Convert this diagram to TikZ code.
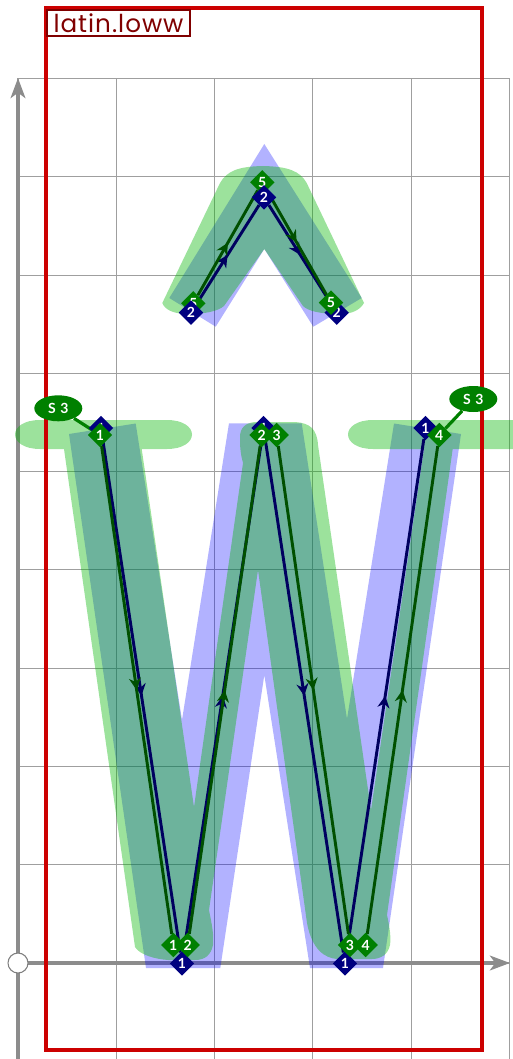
\documentclass[tikz,border=0pt]{standalone}
\usepackage{fontspec}
\setmainfont{Lato}
\newfontfamily\namefont[LetterSpace=4]{Poppins}
\usetikzlibrary{shapes.geometric,arrows.meta,backgrounds,decorations.markings}
\definecolor{navydot}{HTML}{000080}
\definecolor{navyline}{HTML}{000060}
\definecolor{greendot}{HTML}{008000}
\definecolor{greenline}{HTML}{005000}
\definecolor{boxred}{HTML}{CC0000}
\definecolor{labelred}{HTML}{800000}
\tikzset{
	navynode/.style = {
		diamond,
		fill=navydot,
		text=white,
		minimum size=18.5pt,
		aspect=1,
		inner sep=0pt,
		font=\bfseries\fontsize{10.5}{10.5}\selectfont
	},
	greennode/.style = {
		navynode,
		fill=greendot
	},
	bubble/.style = {
		ellipse,
		fill=greendot,
		text=white,
		minimum width=36pt,
		minimum height=19.5pt,
		inner sep=0pt,
		font=\bfseries\fontsize{10.5}{10.5}\selectfont
	},
	tail/.style = {
		greendot,
		line width=2.4pt
	},
	stroke/.style = {
		line width=2.2pt,
		postaction={decorate},
		decoration={markings,
			mark=at position 0.5 with {\arrow{Stealth[length=9pt,width=9pt,inset=3pt]}}}
	},
	navystroke/.style = {stroke, navyline},
	greenstroke/.style = {stroke, greenline},
	axis/.style = {
		draw=gray!90,
		line width=3.4pt,
		-{Stealth[length=15pt,width=11pt,inset=4pt]}
	},
	gridline/.style = {
		gray!75,
		line width=0.9pt
	},
	bluefill/.style = {fill={rgb,255:red,0;green,0;blue,255}, fill opacity=0.3},
	greenfill/.style = {fill={rgb,255:red,0;green,180;blue,0}, fill opacity=0.39}
}
\begin{document}
\begin{tikzpicture}[x=0.75pt,y=-0.75pt]
	\useasboundingbox (0,0) rectangle (512,1059);

	% upper mark, points 2 and 5
	\node [greennode] (c1) at (193.3,303.3) {5};
	\node [greennode] (c2) at (262.3,182.3) {5};
	\node [navynode] (a3) at (336.7,312.7) {2};
	\node [navynode] (a1) at (191,312.7) {2};
	\node [navynode] (a2) at (264,197.3) {2};
	\node [greennode] (c3) at (331,302.7) {5};

	% letter, first outline
	\node [navynode] (b1) at (101,428) {1};
	\node [navynode] (b2) at (182,963.5) {1};
	\node [navynode] (b3) at (263.5,428) {1};
	\node [navynode] (b4) at (345,963.5) {1};
	\node [navynode] (b5) at (425.5,428) {1};

	% letter, second outline
	\node [greennode] (d1) at (100,435) {1};
	\node [greennode] (d2) at (173.3,945) {1};
	\node [greennode] (d3) at (187.7,945) {2};
	\node [greennode] (d4) at (261.7,435) {2};
	\node [greennode] (d5) at (276.7,435) {3};
	\node [greennode] (d6) at (350,945) {3};
	\node [greennode] (d7) at (365.7,945) {4};
	\node [greennode] (d8) at (439.3,435) {4};

	% bubbles
	\node [bubble] (s1) at (58.3,408.3) {S\hspace{1pt} 3};
	\node [bubble] (s2) at (473.3,399) {S\hspace{1pt} 3};

	% name of the glyph
	\node [draw=labelred, line width=1.5pt, fill=white, text=labelred, minimum width=107pt, minimum height=20pt, inner sep=0pt, font=\namefont\fontsize{18.5}{18.5}\selectfont] (name) at (118.5,23) {latin.loww};

	\begin{scope}[on background layer]
		% grid
		\foreach \x in {18,116.3,214.6,312.6,411.2,509.5}
			\draw [gridline] (\x,78.5) -- (\x,1059);
		\foreach \y in {78.5,176.8,275.4,373.2,471.6,569.8,668.4,766.3,864.6,963}
			\draw [gridline] (18,\y) -- (509.5,\y);

		% axes
		\coordinate (origin) at (18,963);
		\coordinate (ytop) at (18,78);
		\coordinate (ybottom) at (18,1059);
		\coordinate (xend) at (510,963);
		\draw [axis] (ybottom) -- (ytop);
		\draw [axis] (origin) -- (xend);

		% first outline fill
		\path [bluefill] (69,434) -- (135.7,423.5) -- (182,720) -- (229,423.3) -- (301.7,423.3)
			-- (347,719) -- (394,423.5) -- (461,434) -- (383,968) -- (310,968)
			-- (264.3,675) -- (220.3,968) -- (146,968) -- cycle;
		\path [bluefill] (264.3,144) -- (361.7,298) -- (313.3,326.7) -- (264.3,249)
			-- (215.7,326.7) -- (169.3,298) -- cycle;

		% second outline fill
		\path [greenfill] (40,420) -- (167,420) .. controls (183,420) and (192,427) .. (192,434.5)
			.. controls (192,442) and (183,449) .. (167,449) -- (141.7,449) -- (194,807)
			-- (243,463) .. controls (240,452) and (240,445) .. (240,437)
			.. controls (240,428) and (245,423) .. (255,422) -- (295,422)
			.. controls (310,423) and (317,429) .. (318,445) -- (371,810) -- (424,449)
			-- (373,449) .. controls (357,449) and (348,442) .. (348,434.5)
			.. controls (348,427) and (357,420) .. (373,420) -- (530,420) -- (530,449)
			-- (452.7,449) -- (387,915) .. controls (390,928) and (391,938) .. (390,945)
			.. controls (388,955) and (380,959) .. (372,959) -- (337,959)
			.. controls (325,958) and (312,950) .. (307,923) -- (258,570) -- (209,910)
			.. controls (212,925) and (214,935) .. (213,945)
			.. controls (211,955) and (205,960) .. (195,960) -- (168,960)
			.. controls (155,959) and (140,955) .. (135,947) -- (64,449) -- (40,449)
			.. controls (24,449) and (15,442) .. (15,434.5)
			.. controls (15,427) and (24,420) .. (40,420) -- cycle;
		\path [greenfill] (162.3,303) -- (220,183) .. controls (227,171) and (238,166.5) .. (263,166)
			.. controls (288,166.5) and (300,171) .. (306.7,183) -- (364,303)
			.. controls (360,310) and (352,314) .. (340,314)
			.. controls (320,314) and (308,311) .. (303,306) -- (264.3,249) -- (224,306)
			.. controls (218,311) and (206,314) .. (188,314)
			.. controls (174,314) and (165,310) .. (162.3,303) -- cycle;

		% frame
		\draw [boxred, line width=2.3pt] (46,8) rectangle (482,1050);

		% first outline
		\draw [navystroke] (a1) -- (a2);
		\draw [navystroke] (a2) -- (a3);
		\draw [navystroke] (b1) -- (b2);
		\draw [navystroke] (b2) -- (b3);
		\draw [navystroke] (b3) -- (b4);
		\draw [navystroke] (b4) -- (b5);

		% second outline
		\draw [greenstroke] (c1) -- (c2);
		\draw [greenstroke] (c2) -- (c3);
		\draw [greenstroke] (d1) -- (d2);
		\draw [greenstroke] (d3) -- (d4);
		\draw [greenstroke] (d5) -- (d6);
		\draw [greenstroke] (d7) -- (d8);

		% bubble tails
		\draw [tail] (s1) -- (d1);
		\draw [tail] (s2) -- (d8);
	\end{scope}

	% origin marker
	\node [circle, draw=gray, fill=white, line width=0.8pt, minimum size=15pt, inner sep=0pt] (zero) at (origin) {};
\end{tikzpicture}
\end{document}
